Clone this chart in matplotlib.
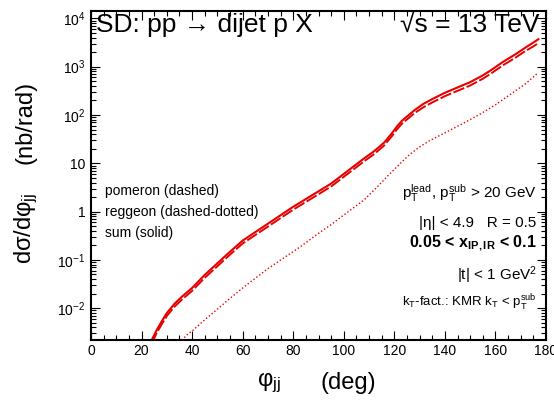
import numpy as np
import matplotlib
matplotlib.use("Agg")
import matplotlib.pyplot as plt
from matplotlib.ticker import FixedLocator, MultipleLocator, LogLocator, NullFormatter

plt.rcParams['font.family'] = ['Liberation Sans', 'DejaVu Sans']
plt.rcParams['mathtext.fontset'] = 'custom'
plt.rcParams['mathtext.rm'] = 'Liberation Sans'
plt.rcParams['mathtext.it'] = 'Liberation Sans:italic'
plt.rcParams['mathtext.bf'] = 'Liberation Sans:bold'

# data (log10 of dsigma/dphi in nb/rad)
phi_sum = [23.5, 24, 26, 28, 30, 33, 36, 40, 45, 50, 55, 60, 70, 80, 90, 95, 100, 105, 108, 112,
           116, 119, 121, 123, 125.5, 128, 131.5, 135, 140, 145, 150, 155, 158, 163, 168, 172,
           175, 177]
log_sum = [-2.72, -2.66, -2.45, -2.27, -2.10, -1.91, -1.76, -1.58, -1.31, -1.07, -0.83, -0.60,
           -0.25, 0.10, 0.42, 0.58, 0.78, 0.98, 1.10, 1.25, 1.43, 1.62, 1.76, 1.88, 1.99, 2.10,
           2.23, 2.33, 2.46, 2.57, 2.68, 2.82, 2.92, 3.10, 3.26, 3.40, 3.50, 3.57]
phi_pom = [23.8, 24.5, 26, 28, 30, 33, 36, 40, 45, 50, 55, 60, 70, 80, 90, 95, 100, 105, 108, 112,
           116, 119, 121, 123, 125.5, 128, 131.5, 135, 140, 145, 150, 155, 158, 163, 168, 172,
           175, 177]
log_pom = [-2.72, -2.68, -2.51, -2.33, -2.16, -1.97, -1.82, -1.64, -1.37, -1.13, -0.89, -0.66,
           -0.31, 0.04, 0.36, 0.52, 0.72, 0.92, 1.04, 1.19, 1.37, 1.56, 1.70, 1.82, 1.93, 2.04,
           2.16, 2.26, 2.39, 2.50, 2.61, 2.75, 2.85, 3.03, 3.19, 3.33, 3.42, 3.49]
phi_reg = [35, 36, 38, 40.5, 45, 50, 54, 60, 70, 83, 90, 95, 100, 108, 113, 118, 122, 126, 130,
           134, 140, 147, 154, 160, 166, 172, 177]
log_reg = [-2.72, -2.66, -2.55, -2.45, -2.24, -2.02, -1.84, -1.58, -1.18, -0.72, -0.45, -0.27,
           -0.07, 0.24, 0.50, 0.77, 0.98, 1.18, 1.34, 1.47, 1.63, 1.82, 2.02, 2.21, 2.43, 2.65,
           2.88]

ytick_vals = [1e-2, 1e-1, 1, 10, 1e2, 1e3, 1e4]
ytick_labels = ['$10^{-2}$', '$10^{-1}$', '1', '10', '$10^{2}$', '$10^{3}$', '$10^{4}$']

red = '#e80000'

fig = plt.figure(figsize=(5.54, 4.17), dpi=100)
ax = fig.add_axes([91/554, 77/417, 455/554, 329/417])

ax.plot(phi_sum, 10**np.array(log_sum), color=red, lw=1.5, solid_joinstyle='round')
ax.plot(phi_pom, 10**np.array(log_pom), color=red, lw=1.4, dashes=(6, 1.3))
ax.plot(phi_reg, 10**np.array(log_reg), color=red, lw=1.0, linestyle=(0, (1, 1.6)))

ax.set_yscale('log')
ax.set_xlim(0, 180)
ax.set_ylim(10**-2.658, 10**4.153)

ax.xaxis.set_major_locator(MultipleLocator(20))
ax.xaxis.set_minor_locator(MultipleLocator(5))
ax.yaxis.set_major_locator(FixedLocator(ytick_vals))
ax.set_yticklabels(ytick_labels)
ax.yaxis.set_minor_locator(LogLocator(base=10, subs=np.arange(2, 10)))
ax.yaxis.set_minor_formatter(NullFormatter())

ax.tick_params(which='both', direction='in', top=True, right=True, width=0.8, labelsize=10)
ax.tick_params(which='major', length=6.5)
ax.tick_params(which='minor', length=3.5)
ax.tick_params(axis='x', pad=3)
ax.tick_params(axis='y', pad=4)
for s in ax.spines.values():
    s.set_linewidth(1.5)

def fx(px):
    return (px - 91) / 455
def fy(py):
    return (340 - py) / 329

ax.text(fx(96), fy(32), 'SD: pp → dijet p X', fontsize=19, transform=ax.transAxes,
        ha='left', va='baseline')
ax.text(fx(540), fy(32), '√s = 13 TeV', fontsize=19, transform=ax.transAxes,
        ha='right', va='baseline')

for t, py in [('pomeron (dashed)', 195), ('reggeon (dashed-dotted)', 216), ('sum (solid)', 237)]:
    ax.text(fx(105), fy(py), t, fontsize=10, transform=ax.transAxes, ha='left', va='baseline')

ax.text(fx(537), fy(198), r'p$_{\mathrm{T}}^{\mathrm{lead}}$, p$_{\mathrm{T}}^{\mathrm{sub}}$ > 20 GeV',
        fontsize=11, transform=ax.transAxes, ha='right', va='baseline')
ax.text(fx(536), fy(227), '|η| < 4.9   R = 0.5', fontsize=11, transform=ax.transAxes,
        ha='right', va='baseline')
ax.text(fx(537), fy(247), r'0.05 < x$_{\mathbf{IP,IR}}$ < 0.1', fontsize=11.5, fontweight='bold',
        transform=ax.transAxes, ha='right', va='baseline')
ax.text(fx(537), fy(280), r'|t| < 1 GeV$^{2}$', fontsize=11, transform=ax.transAxes,
        ha='right', va='baseline')
ax.text(fx(537), fy(307), r'k$_{\mathrm{T}}$-fact.: KMR k$_{\mathrm{T}}$ < p$_{\mathrm{T}}^{\mathrm{sub}}$',
        fontsize=9.5, transform=ax.transAxes, ha='right', va='baseline')

# axis titles
fig.text(320/554, 1 - 383/417, '(deg)', fontsize=17, ha='left', va='center')
fig.text(257/554, 1 - 383/417, r'φ$_{\mathrm{jj}}$', fontsize=17, ha='left', va='center')
fig.text(26/554, 1 - 122/417, '(nb/rad)', fontsize=17, rotation=90, ha='center', va='center')
fig.text(26/554, 1 - 228/417, r'dσ/dφ$_{\mathrm{jj}}$', fontsize=17, rotation=90,
         ha='center', va='center')

fig.savefig('out.png', dpi=100)
